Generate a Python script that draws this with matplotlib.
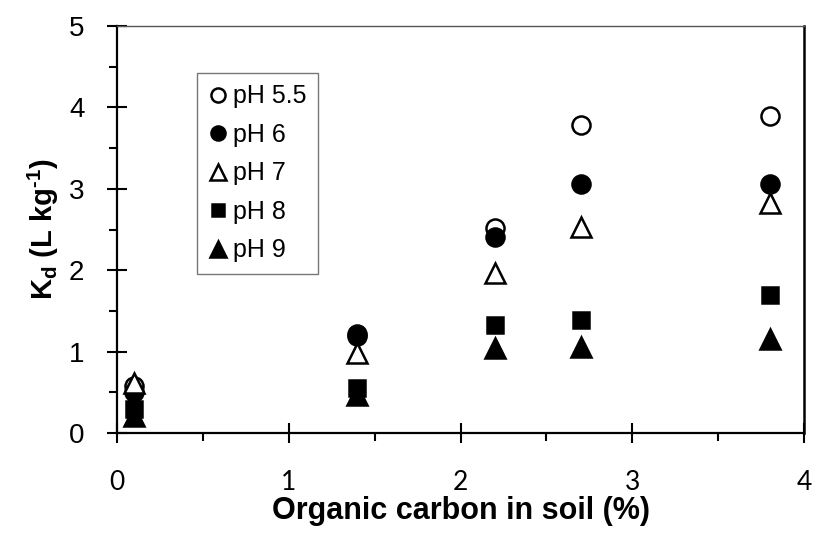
import matplotlib
matplotlib.use('Agg')
import matplotlib.pyplot as plt
from matplotlib.ticker import MultipleLocator

plt.rcParams['mathtext.fontset'] = 'custom'
plt.rcParams['mathtext.rm'] = 'Liberation Sans:bold'
plt.rcParams['mathtext.it'] = 'Liberation Sans:bold'

# organic carbon (%) and Kd per pH
oc = [0.1, 1.4, 2.2, 2.7, 3.8]
kd_ph55 = [0.58, 1.22, 2.52, 3.78, 3.90]
kd_ph6 = [0.50, 1.19, 2.41, 3.06, 3.06]
kd_ph7 = [0.62, 0.98, 1.97, 2.53, 2.83]
kd_ph8 = [0.30, 0.55, 1.33, 1.39, 1.70]
kd_ph9 = [0.21, 0.47, 1.05, 1.06, 1.16]

series = [
    ("pH 5.5", kd_ph55, 'o', 'white', 13),
    ("pH 6", kd_ph6, 'o', 'black', 13),
    ("pH 7", kd_ph7, '^', 'white', 14),
    ("pH 8", kd_ph8, 's', 'black', 11),
    ("pH 9", kd_ph9, '^', 'black', 14),
]

fig = plt.figure(figsize=(8.16, 5.5), dpi=100)
ax = fig.add_axes([0.1434, 0.2127, 0.8419, 0.74])

for label, vals, marker, face, ms in series:
    ax.plot(oc, vals, linestyle='none', marker=marker, markersize=ms,
            markerfacecolor=face, markeredgecolor='black', markeredgewidth=1.8,
            label=label, clip_on=False)

ax.set_xlim(0, 4)
ax.set_ylim(0, 5)
ax.xaxis.set_major_locator(MultipleLocator(1))
ax.xaxis.set_minor_locator(MultipleLocator(0.5))
ax.yaxis.set_major_locator(MultipleLocator(1))
ax.yaxis.set_minor_locator(MultipleLocator(0.5))

ax.tick_params(which='major', direction='inout', length=15, width=1.5)
ax.tick_params(which='minor', direction='out', length=6, width=1.5)
ax.tick_params(axis='x', which='major', pad=19, labelsize=19, labelfontfamily='Lato')
ax.tick_params(axis='y', which='major', pad=16, labelsize=20,
               labelfontfamily='Liberation Sans')

ax.spines['left'].set_linewidth(1.6)
ax.spines['bottom'].set_linewidth(1.6)
ax.spines['right'].set_linewidth(1.8)
ax.spines['top'].set_linewidth(1.0)
ax.spines['top'].set_color('#555555')

ax.set_xlabel("Organic carbon in soil (%)", fontfamily='Liberation Sans',
              fontweight='bold', fontsize=22, labelpad=1)
ax.set_ylabel(r"K$_\mathrm{d}$ (L kg$^\mathrm{\text{-}1}$)", fontfamily='Liberation Sans',
              fontweight='bold', fontsize=21, labelpad=6)

leg = ax.legend(loc='upper left', bbox_to_anchor=(0.116, 0.884), frameon=True,
                fancybox=False, edgecolor='#555555', handletextpad=0.2,
                handlelength=0.8, labelspacing=0.58, borderpad=0.45,
                borderaxespad=0, markerscale=0.78,
                prop={'family': 'Liberation Sans', 'size': 18})
leg.get_frame().set_linewidth(1.0)

fig.savefig('out.png', dpi=100)
